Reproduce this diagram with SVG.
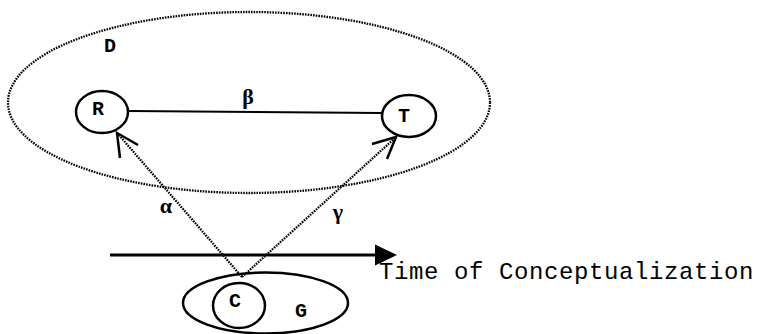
<svg xmlns="http://www.w3.org/2000/svg" width="763" height="334" viewBox="0 0 763 334">
<style>
.dot{fill:none;stroke:#000;stroke-width:2.3;stroke-dasharray:1.6 1.1}
.solid{fill:none;stroke:#000;stroke-width:2.5}
.lbl{font-family:"Liberation Mono","DejaVu Sans Mono",monospace;font-size:20px;font-weight:bold;fill:#000;text-anchor:middle}
.greek{font-family:"Liberation Serif","DejaVu Serif",serif;font-size:22px;font-weight:bold;fill:#000;text-anchor:middle}
.time{font-family:"Liberation Mono","DejaVu Sans Mono",monospace;font-size:24px;fill:#000;letter-spacing:0.6px}
</style>
<rect width="763" height="334" fill="#fff"/>
<g id="D">
<ellipse class="dot" cx="249" cy="102.5" rx="241" ry="90.5"/>
<text class="lbl" x="110" y="52">D</text>
</g>
<g id="R">
<ellipse class="solid" cx="102" cy="112" rx="26" ry="21"/>
<text class="lbl" x="98" y="115">R</text>
</g>
<g id="T">
<ellipse class="solid" cx="409" cy="116" rx="27" ry="21"/>
<text class="lbl" x="404" y="122">T</text>
</g>
<g id="G">
<ellipse class="solid" cx="265.5" cy="303" rx="82.5" ry="30.5"/>
<text class="lbl" x="301" y="317">G</text>
</g>
<g id="C">
<ellipse class="solid" cx="239" cy="305.5" rx="26" ry="22.5"/>
<text class="lbl" x="235" y="307">C</text>
</g>
<g id="connectors">
<line x1="129" y1="111" x2="383" y2="113" stroke="#000" stroke-width="1.8"/>
<text class="greek" x="248" y="104">β</text>
<line class="dot" x1="242" y1="277" x2="118" y2="134"/>
<polyline class="solid" points="138,145 117,133 120,158"/>
<text class="greek" x="166" y="213">α</text>
<line class="dot" x1="242" y1="277" x2="395" y2="138"/>
<polyline class="solid" points="372,144 396,137 387,159"/>
<text class="greek" x="338" y="219">γ</text>
<line x1="110" y1="255" x2="378" y2="255" stroke="#000" stroke-width="3"/>
<polygon points="375,244.5 397,255 375,265.5" fill="#000"/>
</g>
<text class="time" x="379" y="279">Time of Conceptualization</text>
</svg>
